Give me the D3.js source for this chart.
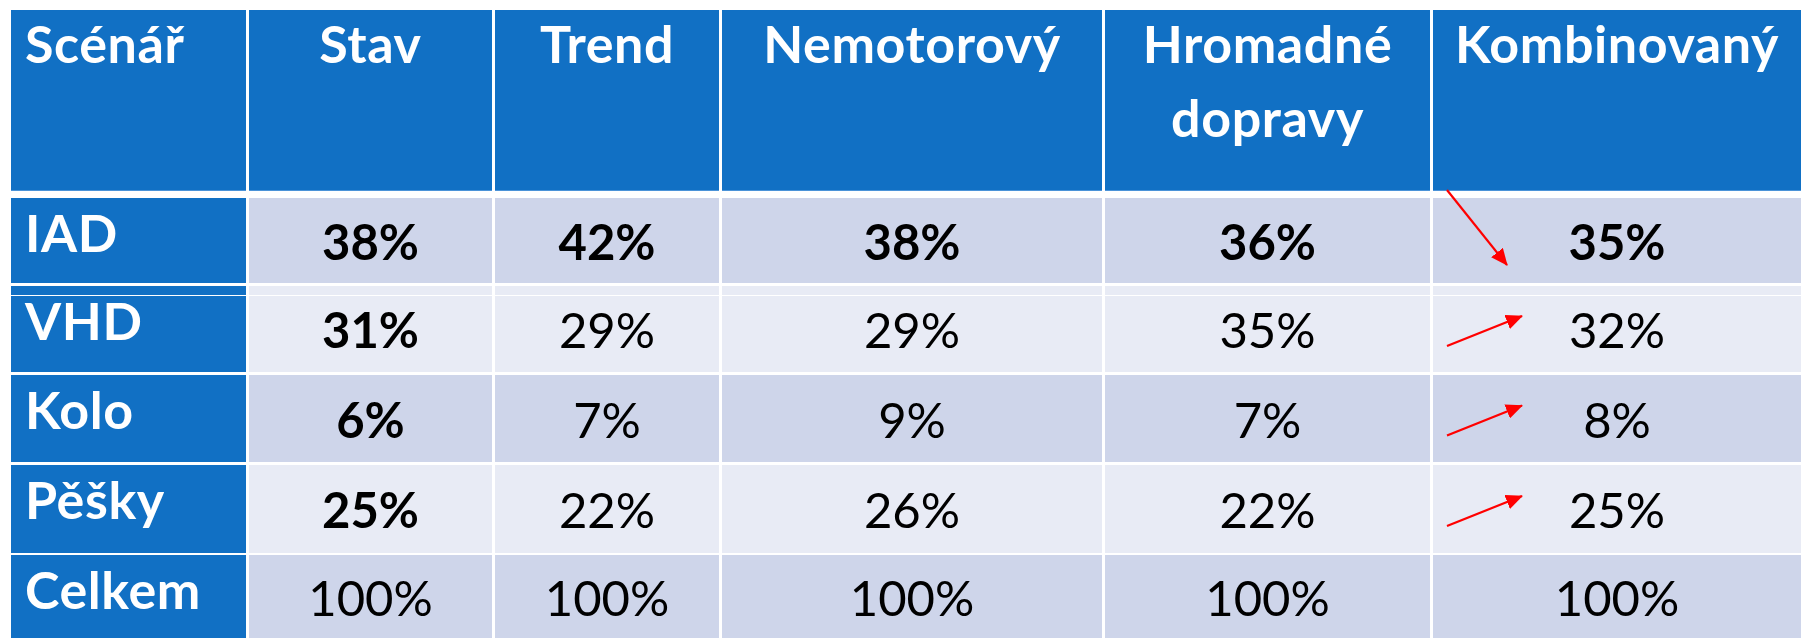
<!DOCTYPE html>
<html>
<head>
<meta charset="utf-8">
<script src="https://cdn.jsdelivr.net/npm/d3@7"></script>
<style>
body { margin: 0; background: #fff; }
</style>
</head>
<body>
<div class="vis-table"></div>
<script>
const cornerLabel = 'Scénář';
const scenarios = ['Stav', 'Trend', 'Nemotorový', 'Hromadné dopravy', 'Kombinovaný'];
const modes = ['IAD', 'VHD', 'Kolo', 'Pěšky', 'Celkem'];
const stav = [38, 31, 6, 25, 100];
const trend = [42, 29, 7, 22, 100];
const nemotorovy = [38, 29, 9, 26, 100];
const hromadne = [36, 35, 7, 22, 100];
const kombinovany = [35, 32, 8, 25, 100];

const drawTable = () => {
    d3.select('.vis-table > *').remove();
    const width = 1801, height = 638;
    const blue = '#1170c4';
    const series = [stav, trend, nemotorovy, hromadne, kombinovany];
    const columns = [cornerLabel].concat(scenarios);

    let svg = d3.select('.vis-table').append('svg')
        .attr('width', width)
        .attr('height', height);

    // uneven columns, so ordinal scales onto the cell edges
    let x0 = d3.scaleOrdinal().domain(columns).range([11, 249, 495, 722, 1105, 1433]);
    let x1 = d3.scaleOrdinal().domain(columns).range([246, 492, 719, 1102, 1430, 1801]);
    let y0 = d3.scaleOrdinal().domain(modes).range([198, 286, 375, 465, 555]);
    let y1 = d3.scaleOrdinal().domain(modes).range([283, 372, 462, 553, 638]);
    const headTop = 10, headBottom = 191;

    // header row
    let head = svg.append('g').selectAll('g')
        .data(columns)
        .enter().append('g');
    head.append('rect')
        .attr('x', d => x0(d))
        .attr('y', headTop)
        .attr('width', d => x1(d) - x0(d))
        .attr('height', headBottom - headTop)
        .attr('fill', blue);
    head.append('rect')
        .attr('x', d => x0(d))
        .attr('y', headBottom - 1)
        .attr('width', d => x1(d) - x0(d))
        .attr('height', 1)
        .attr('fill', '#4b93d8');
    head.append('text')
        .attr('text-anchor', (d, i) => i === 0 ? 'start' : 'middle')
        .attr('font-family', 'Lato, sans-serif')
        .attr('font-weight', 700)
        .attr('font-size', 52)
        .attr('letter-spacing', 0.6)
        .attr('fill', '#fff')
        .each(function (d, i) {
            const cx = i === 0 ? x0(d) + 14 : (x0(d) + x1(d)) / 2;
            d3.select(this).selectAll('tspan')
                .data(d.split(' '))
                .enter().append('tspan')
                .attr('x', cx)
                .attr('y', (w, j) => 63 + j * 74)
                .text(w => w);
        });

    // body rows
    let rows = svg.append('g').selectAll('g')
        .data(modes)
        .enter().append('g');

    rows.append('rect')
        .attr('x', x0(cornerLabel))
        .attr('y', d => y0(d))
        .attr('width', x1(cornerLabel) - x0(cornerLabel))
        .attr('height', d => y1(d) - y0(d))
        .attr('fill', blue);
    rows.append('text')
        .attr('x', x0(cornerLabel) + 14)
        .attr('y', d => y0(d) + 54)
        .attr('font-family', 'Lato, sans-serif')
        .attr('font-weight', 700)
        .attr('font-size', 52)
        .attr('letter-spacing', 0.6)
        .attr('fill', '#fff')
        .text(d => d);

    rows.each(function (m, r) {
        let cells = d3.select(this).selectAll('.cell')
            .data(scenarios.map((s, c) => ({ s: s, c: c, v: series[c][r] })))
            .enter().append('g')
            .attr('class', 'cell');
        cells.append('rect')
            .attr('x', d => x0(d.s))
            .attr('y', y0(m))
            .attr('width', d => x1(d.s) - x0(d.s))
            .attr('height', y1(m) - y0(m))
            .attr('fill', r % 2 === 0 ? '#ced5ea' : '#e8ebf5');
        cells.append('text')
            .attr('x', d => (x0(d.s) + x1(d.s)) / 2)
            .attr('y', (y0(m) + y1(m)) / 2 + 19)
            .attr('text-anchor', 'middle')
            .attr('font-family', 'Lato, sans-serif')
            .attr('font-size', 49)
            .attr('font-weight', d => (r < modes.length - 1 && (r === 0 || d.c === 0)) ? 700 : 400)
            .attr('fill', '#000')
            .text(d => d.v + '%');
    });

    // odd thin white rule inside the VHD row
    svg.append('rect')
        .attr('x', x0(cornerLabel))
        .attr('y', y0('VHD') + 9)
        .attr('width', width - x0(cornerLabel))
        .attr('height', 1)
        .attr('fill', '#fff');

    // red arrows: change from Stav to Kombinovaný
    svg.append('defs').append('marker')
        .attr('id', 'head')
        .attr('viewBox', '0 0 17 15')
        .attr('refX', 16)
        .attr('refY', 7.5)
        .attr('markerWidth', 17)
        .attr('markerHeight', 15)
        .attr('markerUnits', 'userSpaceOnUse')
        .attr('orient', 'auto')
        .append('path')
        .attr('d', 'M0,0 L17,7.5 L0,15 Z')
        .attr('fill', '#ff0000');

    const last = scenarios[scenarios.length - 1];
    const arrows = modes.slice(0, -1).map((m, i) => ({ m: m, diff: kombinovany[i] - stav[i] }));
    svg.append('g').selectAll('line')
        .data(arrows)
        .enter().append('line')
        .attr('x1', d => x0(last) + 14)
        .attr('y1', d => d.diff < 0 ? y0(d.m) - 8 : (y0(d.m) + y1(d.m)) / 2 + 17)
        .attr('x2', d => d.diff < 0 ? x0(last) + 74 : x0(last) + 89)
        .attr('y2', d => d.diff < 0 ? y1(d.m) - 18 : (y0(d.m) + y1(d.m)) / 2 - 13)
        .attr('stroke', '#ff0000')
        .attr('stroke-width', 2.2)
        .attr('marker-end', 'url(#head)');
}

drawTable();
</script>
</body>
</html>
